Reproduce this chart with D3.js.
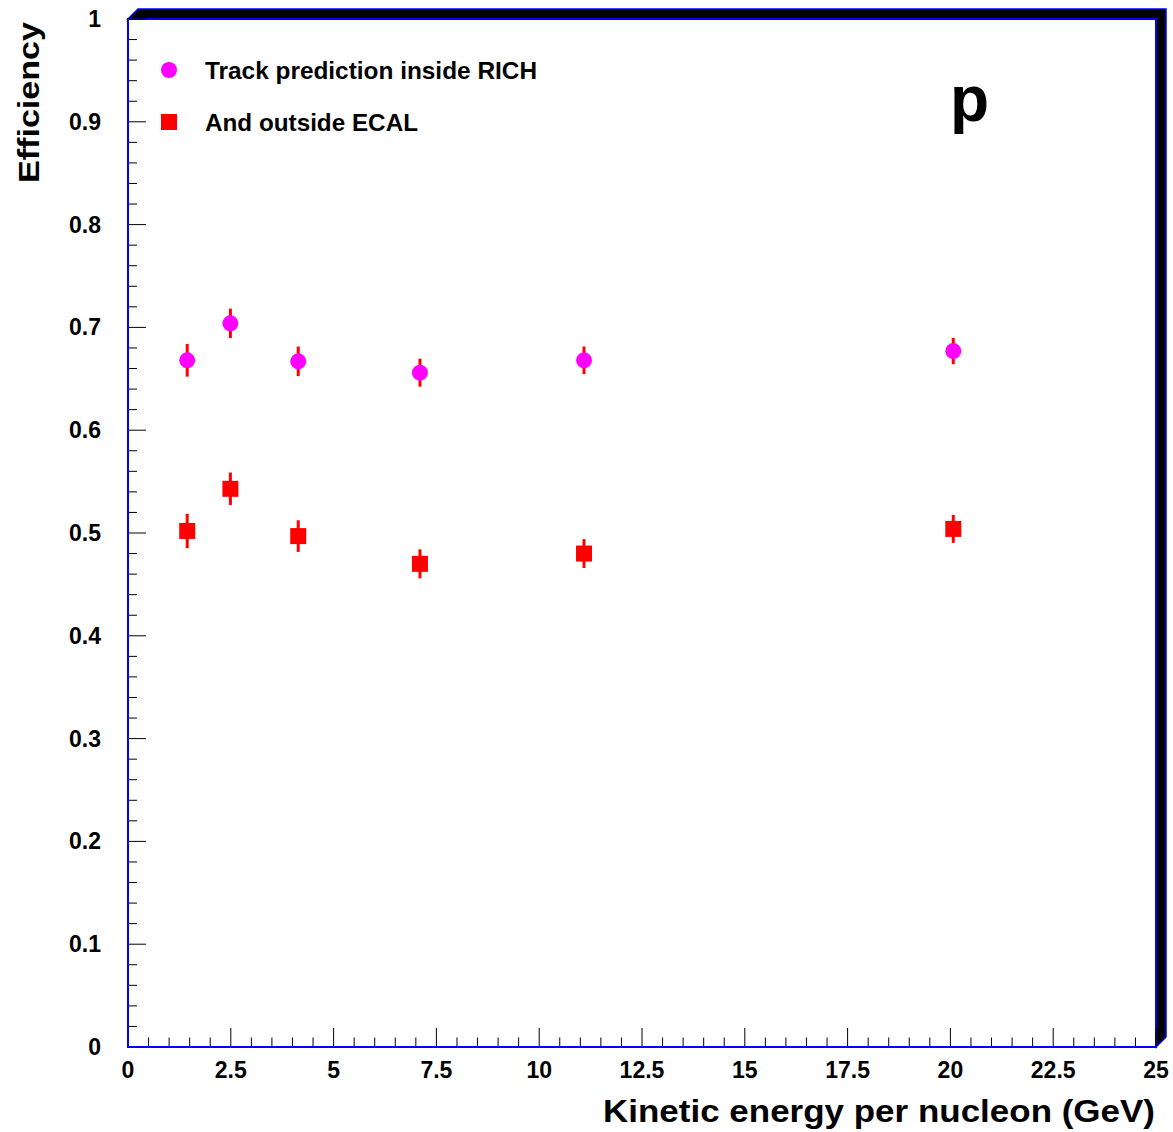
<!DOCTYPE html>
<html><head><meta charset="utf-8">
<script src="https://cdn.jsdelivr.net/npm/d3@7"></script>
<style>body{margin:0;background:#fff;} svg{display:block;} text{font-family:"Liberation Sans",Arial,Helvetica,sans-serif;font-weight:bold;}</style>
</head><body>
<svg id="c" width="1173" height="1132"></svg>
<script>
const energies = [1.44, 2.49, 4.14, 7.10, 11.09, 20.07];
const richEff = [0.668, 0.704, 0.667, 0.656, 0.668, 0.677];
const richErr = [0.0159, 0.0143, 0.0144, 0.0136, 0.0134, 0.0128];
const ecalEff = [0.502, 0.543, 0.497, 0.470, 0.480, 0.504];
const ecalErr = [0.0167, 0.0158, 0.0154, 0.0141, 0.0140, 0.0136];
const xTickLabels = ["0","2.5","5","7.5","10","12.5","15","17.5","20","22.5","25"];
const yTickLabels = ["0","0.1","0.2","0.3","0.4","0.5","0.6","0.7","0.8","0.9","1"];
const seriesNames = ["Track prediction inside RICH", "And outside ECAL"];

const L = 128, R = 1156, T = 19, B = 1047;
const svg = d3.select("#c");
const x = d3.scaleLinear().domain([0, 25]).range([L, R]);
const y = d3.scaleLinear().domain([0, 1]).range([B, T]);

// shadow (ROOT frame border)
const s = 10;
svg.append("polygon")
  .attr("points", [[L,T],[L+s,T-s],[R+s,T-s],[R+s,B-s],[R,B],[R,T]].map(p=>p.join(",")).join(" "))
  .attr("fill", "#000").attr("stroke", "#0000ff").attr("stroke-width", 1.5);
svg.append("rect").attr("x", L).attr("y", T).attr("width", R-L).attr("height", B-T)
  .attr("fill", "#fff").attr("stroke", "#0000ff").attr("stroke-width", 2);

// ticks
const g = svg.append("g");
const xMinor = d3.range(0, 25.001, 0.5);
g.selectAll(".xt").data(xMinor).join("line")
  .attr("x1", d => x(d)).attr("x2", d => x(d))
  .attr("y1", B).attr("y2", d => B - (Math.abs(d/2.5 - Math.round(d/2.5)) < 1e-6 ? 19 : 9.5))
  .attr("stroke", "#000").attr("stroke-width", 1);
const yMinor = d3.range(0, 1.0001, 0.02);
g.selectAll(".yt").data(yMinor).join("line")
  .attr("y1", d => y(d)).attr("y2", d => y(d))
  .attr("x1", L).attr("x2", d => L + (Math.abs(d/0.1 - Math.round(d/0.1)) < 1e-6 ? 18 : 9))
  .attr("stroke", "#000").attr("stroke-width", 1);
svg.append("line").attr("x1", L).attr("x2", R).attr("y1", B).attr("y2", B).attr("stroke", "#0000ff").attr("stroke-width", 2);
svg.append("line").attr("x1", L).attr("x2", L).attr("y1", T).attr("y2", B).attr("stroke", "#0000ff").attr("stroke-width", 2);

// tick labels
svg.selectAll(".xl").data(xTickLabels).join("text")
  .attr("x", (d,i) => x(i*2.5)).attr("y", 1078).attr("text-anchor", "middle")
  .attr("font-size", 23).attr("fill", "#000").text(d => d);
svg.selectAll(".yl").data(yTickLabels).join("text")
  .attr("x", 101).attr("y", (d,i) => y(i*0.1) + 8).attr("text-anchor", "end")
  .attr("font-size", 23).attr("fill", "#000").text(d => d);

// axis titles
svg.append("text").attr("x", 603).attr("y", 1122)
  .attr("font-size", 32).attr("fill", "#000")
  .attr("textLength", 552).attr("lengthAdjust", "spacingAndGlyphs")
  .text("Kinetic energy per nucleon (GeV)");
svg.append("text").attr("transform", "translate(39,183) rotate(-90)")
  .attr("font-size", 30).attr("fill", "#000")
  .attr("textLength", 161).attr("lengthAdjust", "spacingAndGlyphs")
  .text("Efficiency");

// data
const rich = energies.map((e,i) => ({x: e, v: richEff[i], err: richErr[i]}));
const ecal = energies.map((e,i) => ({x: e, v: ecalEff[i], err: ecalErr[i]}));
function errBars(data) {
  svg.append("g").selectAll("line").data(data).join("line")
    .attr("x1", d => x(d.x)).attr("x2", d => x(d.x))
    .attr("y1", d => y(d.v - d.err)).attr("y2", d => y(d.v + d.err))
    .attr("stroke", "#ff0000").attr("stroke-width", 3);
}
errBars(rich); errBars(ecal);
svg.append("g").selectAll("circle").data(rich).join("circle")
  .attr("cx", d => x(d.x)).attr("cy", d => y(d.v)).attr("r", 8).attr("fill", "#ff00ff");
svg.append("g").selectAll("rect").data(ecal).join("rect")
  .attr("x", d => x(d.x) - 8).attr("y", d => y(d.v) - 8).attr("width", 16).attr("height", 16).attr("fill", "#ff0000");

// legend
svg.append("circle").attr("cx", 169).attr("cy", 70).attr("r", 8).attr("fill", "#ff00ff");
svg.append("rect").attr("x", 161).attr("y", 114).attr("width", 16).attr("height", 16).attr("fill", "#ff0000");
svg.append("text").attr("x", 205).attr("y", 79).attr("font-size", 23).attr("fill", "#000")
  .attr("textLength", 332).attr("lengthAdjust", "spacingAndGlyphs").text(seriesNames[0]);
svg.append("text").attr("x", 205).attr("y", 131).attr("font-size", 23).attr("fill", "#000")
  .attr("textLength", 213).attr("lengthAdjust", "spacingAndGlyphs").text(seriesNames[1]);

// particle label
svg.append("text").attr("x", 950).attr("y", 121).attr("font-size", 64).attr("fill", "#000").text("p");
</script>
</body></html>
